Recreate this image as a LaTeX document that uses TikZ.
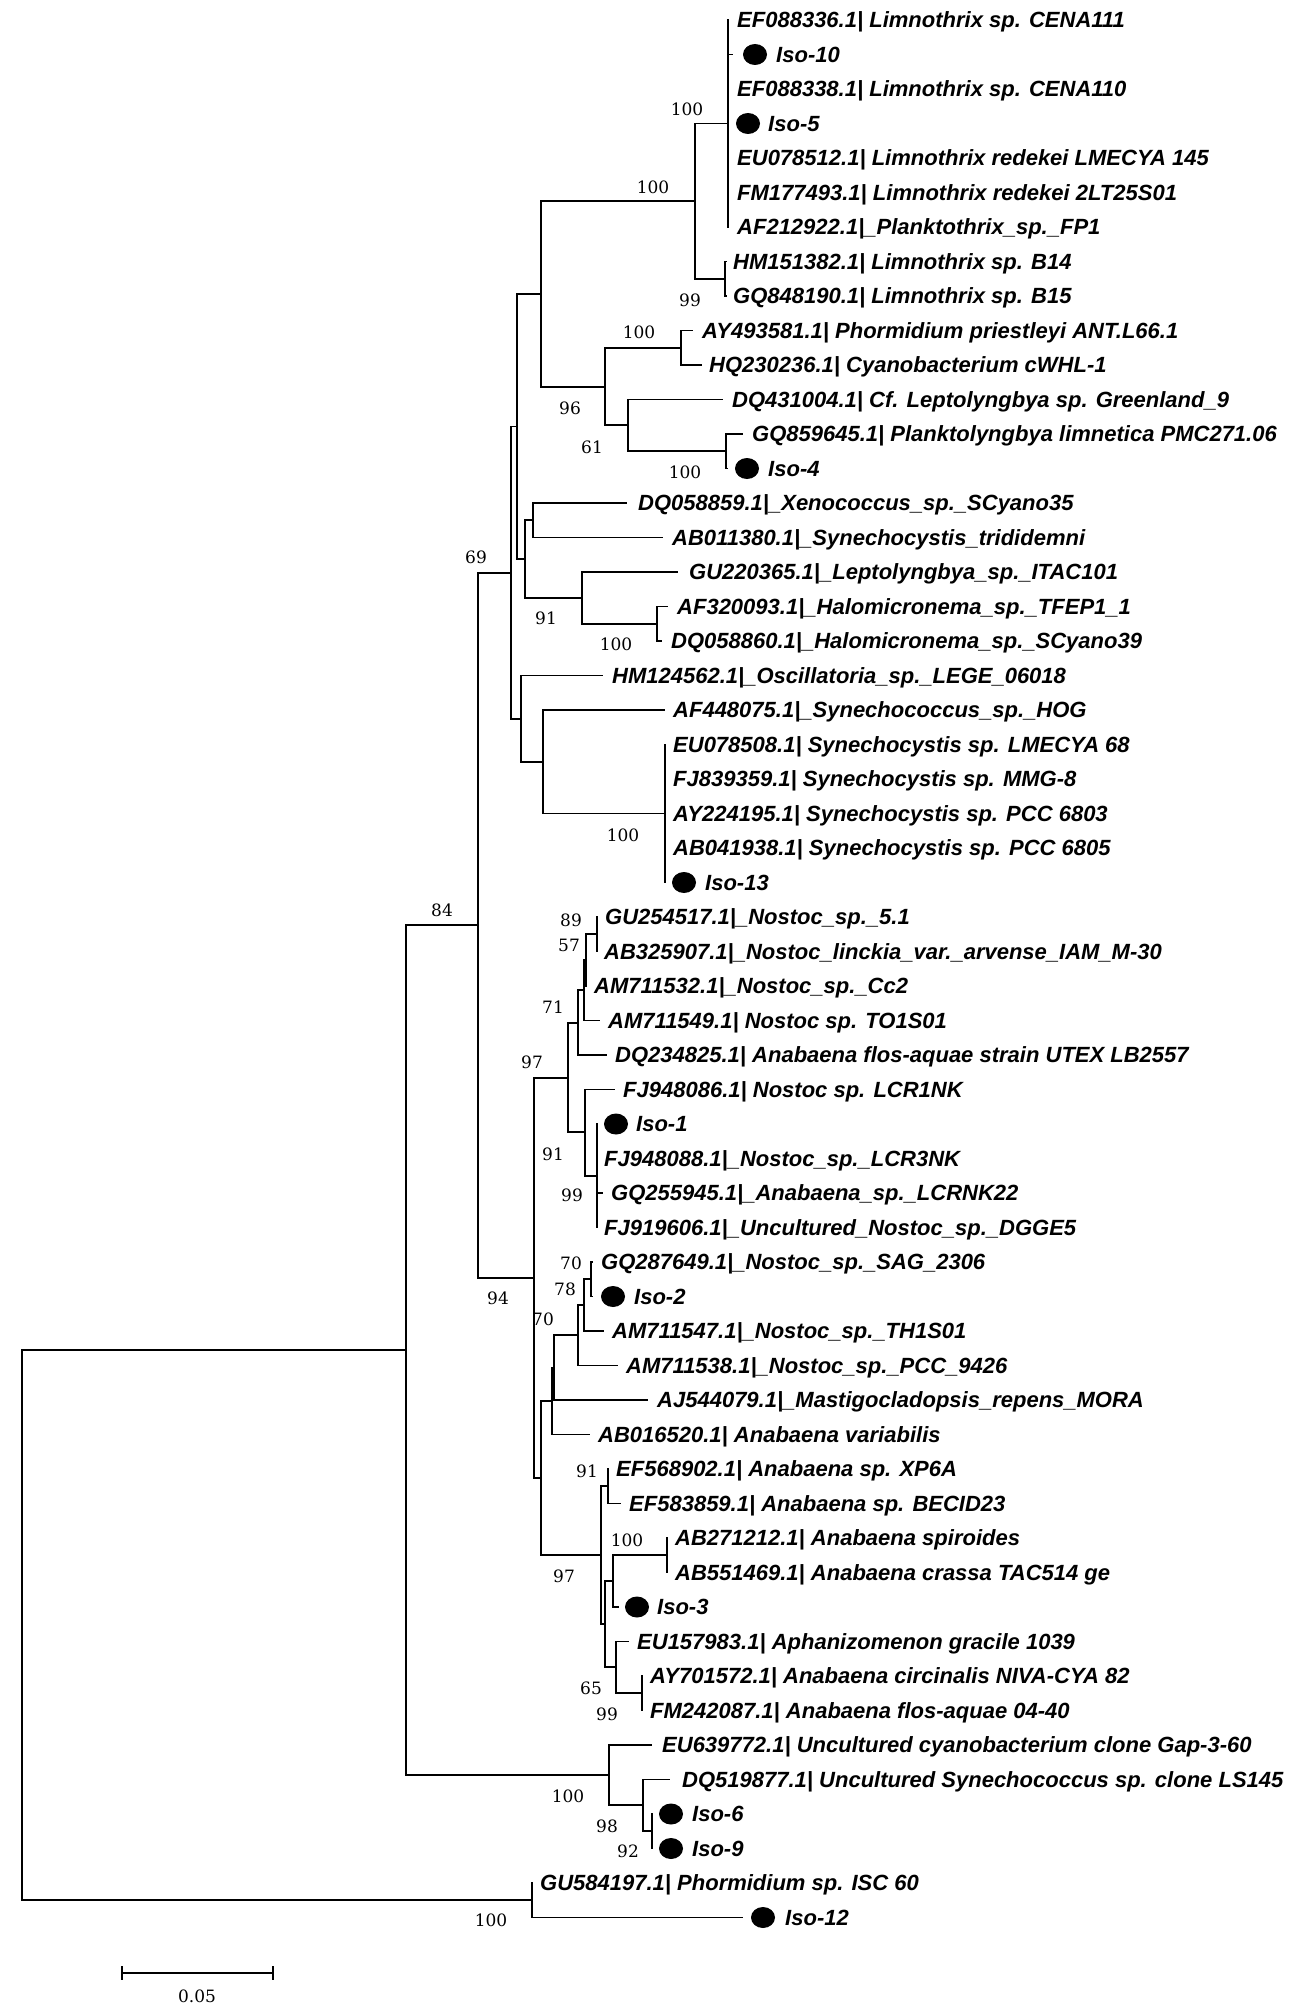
\documentclass[tikz,border=0pt]{standalone}
\usepackage{fontspec}
\usetikzlibrary{shapes.geometric}
\newfontfamily\lblfont{Liberation Sans}
\newfontfamily\bsfont{DejaVu Serif}
\tikzset{
  br/.style={line width=1.9pt, black},
  lbl/.style={anchor=base west, yshift=-7.9pt, inner sep=0pt, font=\lblfont\fontsize{22}{26}\selectfont\bfseries\itshape},
  bs/.style={inner sep=0pt, font=\bsfont\fontsize{17}{20}\selectfont},
  isodot/.style={ellipse, fill=black, minimum width=24pt, minimum height=21pt, inner sep=0pt},
}
\newcommand\leafA[5]{\coordinate (e#1) at (#3,#2); \node[lbl] (t#1) at (#4,#2) {#5};}
\newcommand\isoA[6]{\coordinate (e#1) at (#3,#2); \node[isodot] (d#1) at (#4,#2) {}; \node[lbl] (t#1) at (#5,#2) {#6};}
\begin{document}
\begin{tikzpicture}[x=1pt,y=-1pt]
\useasboundingbox (0,0) rectangle (1302,2007);
% internal nodes
\coordinate (root) at (22,1625.25);
\coordinate (n406) at (406,1350.25);
\coordinate (n532) at (532,1900.25);
\coordinate (n478) at (478,925.3);
\coordinate (n100c) at (609,1775.2);
\coordinate (n98) at (643,1805.4);
\coordinate (n92) at (652,1831.25);
\coordinate (n511) at (511,572.6);
\coordinate (n94) at (534,1277.9);
\coordinate (n517) at (517,426.5);
\coordinate (n521) at (521,718.6);
\coordinate (nA) at (541,293.9);
\coordinate (n525) at (525,559.1);
\coordinate (n100a) at (695,201.1);
\coordinate (n96) at (605,386.6);
\coordinate (nL7) at (728,123.5);
\coordinate (nB) at (725,278.75);
\coordinate (nPh) at (681,347.75);
\coordinate (n61) at (628,425.4);
\coordinate (nIso4) at (726,451.25);
\coordinate (n533) at (533,520.25);
\coordinate (n91a) at (582,597.9);
\coordinate (nHal) at (657,623.75);
\coordinate (n543) at (543,761.75);
\coordinate (nSyn5) at (665,813.5);
\coordinate (n568) at (568,1077.8);
\coordinate (n541) at (541,1478);
\coordinate (n578) at (578,1022.7);
\coordinate (n584) at (584,990.3);
\coordinate (n57) at (586,960.1);
\coordinate (n89) at (597,934.25);
\coordinate (n91b) at (585,1132.2);
\coordinate (n99a) at (597,1175.75);
\coordinate (n552) at (552,1401);
\coordinate (n70b) at (554,1367.65);
\coordinate (n578b) at (578,1335.3);
\coordinate (n78) at (584,1305.1);
\coordinate (n70a) at (591,1279.25);
\coordinate (n601) at (601,1555.25);
\coordinate (n91c) at (608,1486.25);
\coordinate (n605) at (605,1624.25);
\coordinate (n613) at (613,1581.1);
\coordinate (n100b) at (667,1555.25);
\coordinate (n65) at (616,1667.4);
\coordinate (n99b) at (642,1693.25);
% leaves
\leafA{1}{20}{729}{737}{EF088336.1| Limnothrix sp. CENA111}
\isoA{2}{54.5}{733}{755}{776}{Iso-10}
\leafA{3}{89}{729}{737}{EF088338.1| Limnothrix sp. CENA110}
\isoA{4}{123.5}{729}{748}{768}{Iso-5}
\leafA{5}{158}{729}{737}{EU078512.1| Limnothrix redekei LMECYA 145}
\leafA{6}{192.5}{729}{737}{FM177493.1| Limnothrix redekei 2LT25S01}
\leafA{7}{227}{729}{737}{AF212922.1|\_Planktothrix\_sp.\_FP1}
\leafA{8}{261.5}{727}{733}{HM151382.1| Limnothrix sp. B14}
\leafA{9}{296}{727}{733}{GQ848190.1| Limnothrix sp. B15}
\leafA{10}{330.5}{693}{702}{AY493581.1| Phormidium priestleyi ANT.L66.1}
\leafA{11}{365}{702}{709}{HQ230236.1| Cyanobacterium cWHL-1}
\leafA{12}{399.5}{723}{732}{DQ431004.1| Cf. Leptolyngbya sp. Greenland\_9}
\leafA{13}{434}{743}{752}{GQ859645.1| Planktolyngbya limnetica PMC271.06}
\isoA{14}{468.5}{728}{747}{768}{Iso-4}
\leafA{15}{503}{627}{638}{DQ058859.1|\_Xenococcus\_sp.\_SCyano35}
\leafA{16}{537.5}{663}{672}{AB011380.1|\_Synechocystis\_trididemni}
\leafA{17}{572}{678}{689}{GU220365.1|\_Leptolyngbya\_sp.\_ITAC101}
\leafA{18}{606.5}{668}{677}{AF320093.1|\_Halomicronema\_sp.\_TFEP1\_1}
\leafA{19}{641}{662}{671}{DQ058860.1|\_Halomicronema\_sp.\_SCyano39}
\leafA{20}{675.5}{603}{612}{HM124562.1|\_Oscillatoria\_sp.\_LEGE\_06018}
\leafA{21}{710}{665}{673}{AF448075.1|\_Synechococcus\_sp.\_HOG}
\leafA{22}{744.5}{666}{673}{EU078508.1| Synechocystis sp. LMECYA 68}
\leafA{23}{779}{666}{673}{FJ839359.1| Synechocystis sp. MMG-8}
\leafA{24}{813.5}{666}{673}{AY224195.1| Synechocystis sp. PCC 6803}
\leafA{25}{848}{666}{673}{AB041938.1| Synechocystis sp. PCC 6805}
\isoA{26}{882.5}{666}{684}{705}{Iso-13}
\leafA{27}{917}{598}{605}{GU254517.1|\_Nostoc\_sp.\_5.1}
\leafA{28}{951.5}{598}{604}{AB325907.1|\_Nostoc\_linckia\_var.\_arvense\_IAM\_M-30}
\leafA{29}{986}{587}{594}{AM711532.1|\_Nostoc\_sp.\_Cc2}
\leafA{30}{1020.5}{600}{608}{AM711549.1| Nostoc sp. TO1S01}
\leafA{31}{1055}{607}{615}{DQ234825.1| Anabaena flos-aquae strain UTEX LB2557}
\leafA{32}{1089.5}{615}{623}{FJ948086.1| Nostoc sp. LCR1NK}
\isoA{33}{1124}{598}{616}{636}{Iso-1}
\leafA{34}{1158.5}{598}{604}{FJ948088.1|\_Nostoc\_sp.\_LCR3NK}
\leafA{35}{1193}{603}{611}{GQ255945.1|\_Anabaena\_sp.\_LCRNK22}
\leafA{36}{1227.5}{598}{604}{FJ919606.1|\_Uncultured\_Nostoc\_sp.\_DGGE5}
\leafA{37}{1262}{593}{601}{GQ287649.1|\_Nostoc\_sp.\_SAG\_2306}
\isoA{38}{1296.5}{593}{613}{634}{Iso-2}
\leafA{39}{1331}{604}{612}{AM711547.1|\_Nostoc\_sp.\_TH1S01}
\leafA{40}{1365.5}{618}{626}{AM711538.1|\_Nostoc\_sp.\_PCC\_9426}
\leafA{41}{1400}{648}{657}{AJ544079.1|\_Mastigocladopsis\_repens\_MORA}
\leafA{42}{1434.5}{590}{598}{AB016520.1| Anabaena variabilis}
\leafA{43}{1469}{609}{616}{EF568902.1| Anabaena sp. XP6A}
\leafA{44}{1503.5}{621}{629}{EF583859.1| Anabaena sp. BECID23}
\leafA{45}{1538}{668}{675}{AB271212.1| Anabaena spiroides}
\leafA{46}{1572.5}{668}{675}{AB551469.1| Anabaena crassa TAC514 ge}
\isoA{47}{1607}{619}{637}{657}{Iso-3}
\leafA{48}{1641.5}{629}{637}{EU157983.1| Aphanizomenon gracile 1039}
\leafA{49}{1676}{643}{650}{AY701572.1| Anabaena circinalis NIVA-CYA 82}
\leafA{50}{1710.5}{643}{650}{FM242087.1| Anabaena flos-aquae 04-40}
\leafA{51}{1745}{652}{662}{EU639772.1| Uncultured cyanobacterium clone Gap-3-60}
\leafA{52}{1779.5}{670}{682}{DQ519877.1| Uncultured Synechococcus sp. clone LS145}
\isoA{53}{1814}{653}{671}{692}{Iso-6}
\isoA{54}{1848.5}{653}{671}{692}{Iso-9}
\leafA{55}{1883}{533}{540}{GU584197.1| Phormidium sp. ISC 60}
\isoA{56}{1917.5}{743}{763}{785}{Iso-12}
% branches
\draw[br] (root) |- (n406); \draw[br] (root) |- (n532);
\draw[br] (n406) |- (n478); \draw[br] (n406) |- (n100c);
\draw[br] (n478) |- (n511); \draw[br] (n478) |- (n94);
\draw[br] (n511) |- (n517); \draw[br] (n511) |- (n521);
\draw[br] (n517) |- (nA); \draw[br] (n517) |- (n525);
\draw[br] (nA) |- (n100a); \draw[br] (nA) |- (n96);
\draw[br] (n100a) |- (nL7); \draw[br] (n100a) |- (nB);
\foreach \i in {1,...,7} {\draw[br] (nL7) |- (e\i);}
\draw[br] (nB) |- (e8); \draw[br] (nB) |- (e9);
\draw[br] (n96) |- (nPh); \draw[br] (n96) |- (n61);
\draw[br] (nPh) |- (e10); \draw[br] (nPh) |- (e11);
\draw[br] (n61) |- (e12); \draw[br] (n61) |- (nIso4);
\draw[br] (nIso4) |- (e13); \draw[br] (nIso4) |- (e14);
\draw[br] (n525) |- (n533); \draw[br] (n525) |- (n91a);
\draw[br] (n533) |- (e15); \draw[br] (n533) |- (e16);
\draw[br] (n91a) |- (e17); \draw[br] (n91a) |- (nHal);
\draw[br] (nHal) |- (e18); \draw[br] (nHal) |- (e19);
\draw[br] (n521) |- (e20); \draw[br] (n521) |- (n543);
\draw[br] (n543) |- (e21); \draw[br] (n543) |- (nSyn5);
\foreach \i in {22,...,26} {\draw[br] (nSyn5) |- (e\i);}
\draw[br] (n94) |- (n568); \draw[br] (n94) |- (n541);
\draw[br] (n568) |- (n578); \draw[br] (n568) |- (n91b);
\draw[br] (n578) |- (n584); \draw[br] (n578) |- (e31);
\draw[br] (n584) |- (n57); \draw[br] (n584) |- (e30);
\draw[br] (n57) |- (n89); \draw[br] (n57) |- (e29);
\draw[br] (n89) |- (e27); \draw[br] (n89) |- (e28);
\draw[br] (n91b) |- (e32); \draw[br] (n91b) |- (n99a);
\foreach \i in {33,...,36} {\draw[br] (n99a) |- (e\i);}
\draw[br] (n541) |- (n552); \draw[br] (n541) |- (n601);
\draw[br] (n552) |- (n70b); \draw[br] (n552) |- (e42);
\draw[br] (n70b) |- (n578b); \draw[br] (n70b) |- (e41);
\draw[br] (n578b) |- (n78); \draw[br] (n578b) |- (e40);
\draw[br] (n78) |- (n70a); \draw[br] (n78) |- (e39);
\draw[br] (n70a) |- (e37); \draw[br] (n70a) |- (e38);
\draw[br] (n601) |- (n91c); \draw[br] (n601) |- (n605);
\draw[br] (n91c) |- (e43); \draw[br] (n91c) |- (e44);
\draw[br] (n605) |- (n613); \draw[br] (n605) |- (n65);
\draw[br] (n613) |- (n100b); \draw[br] (n613) |- (e47);
\draw[br] (n100b) |- (e45); \draw[br] (n100b) |- (e46);
\draw[br] (n65) |- (e48); \draw[br] (n65) |- (n99b);
\draw[br] (n99b) |- (e49); \draw[br] (n99b) |- (e50);
\draw[br] (n100c) |- (e51); \draw[br] (n100c) |- (n98);
\draw[br] (n98) |- (e52); \draw[br] (n98) |- (n92);
\draw[br] (n92) |- (e53); \draw[br] (n92) |- (e54);
\draw[br] (n532) |- (e55); \draw[br] (n532) |- (e56);
% bootstrap values
\node[bs] (b1) at (687,109) {100};
\node[bs] (b2) at (653,187) {100};
\node[bs] (b3) at (690,300) {99};
\node[bs] (b4) at (639,332) {100};
\node[bs] (b5) at (570,408) {96};
\node[bs] (b6) at (592,447) {61};
\node[bs] (b7) at (685,472) {100};
\node[bs] (b8) at (476,557) {69};
\node[bs] (b9) at (546,618) {91};
\node[bs] (b10) at (616,644) {100};
\node[bs] (b11) at (623,835) {100};
\node[bs] (b12) at (442,910) {84};
\node[bs] (b13) at (571,920) {89};
\node[bs] (b14) at (569,945) {57};
\node[bs] (b15) at (553,1007) {71};
\node[bs] (b16) at (532,1062) {97};
\node[bs] (b17) at (553,1154) {91};
\node[bs] (b18) at (572,1195) {99};
\node[bs] (b19) at (571,1263) {70};
\node[bs] (b20) at (565,1289) {78};
\node[bs] (b21) at (498,1298) {94};
\node[bs] (b22) at (543,1319) {70};
\node[bs] (b23) at (587,1471) {91};
\node[bs] (b24) at (627,1540) {100};
\node[bs] (b25) at (564,1576) {97};
\node[bs] (b26) at (591,1688) {65};
\node[bs] (b27) at (607,1714) {99};
\node[bs] (b28) at (568,1796) {100};
\node[bs] (b29) at (607,1826) {98};
\node[bs] (b30) at (628,1851) {92};
\node[bs] (b31) at (491,1920) {100};
% scale bar
\coordinate (sa) at (122,1973);
\coordinate (sb) at (273,1973);
\draw[br] (sa) -- (sb);
\draw[br] ([yshift=7pt]sa) -- ([yshift=-7pt]sa);
\draw[br] ([yshift=7pt]sb) -- ([yshift=-7pt]sb);
\node[bs] (sl) at (197,1996) {0.05};
\end{tikzpicture}
\end{document}
